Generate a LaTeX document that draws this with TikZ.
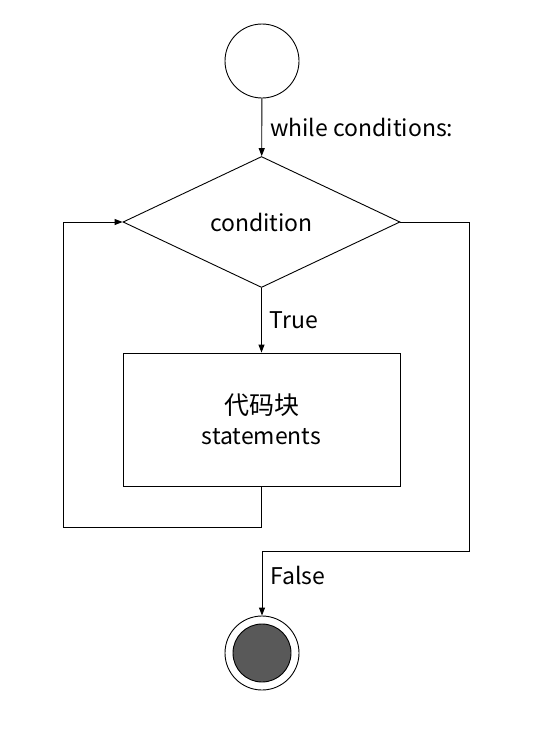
\documentclass[tikz,border=0pt]{standalone}
\usepackage{fontspec}
\setmainfont{Noto Sans CJK SC}
\usetikzlibrary{arrows.meta}
\usetikzlibrary{shapes.geometric}

\begin{document}
\begin{tikzpicture}[x=1pt, y=-1pt, font=\fontsize{23}{30}\selectfont,
    flow/.style={line width=0.9pt, -{Triangle[length=8pt,width=6pt]}},
    lab/.style={right, inner sep=8pt}]
    \useasboundingbox (0,0) rectangle (533,740);
    %%%WHILE LOOP%%%
    %start and end
    \node[draw, line width=0.9pt, circle, minimum size=74pt, inner sep=0pt] (start) at (262,61) {};
    \node[draw, line width=0.9pt, circle, minimum size=74pt, inner sep=0pt] (stop) at (262,653) {};
    \node[draw, line width=0.9pt, circle, fill=black!65, minimum size=58pt, inner sep=0pt] (stopin) at (262,653) {};
    %test and body
    \node[draw, line width=0.9pt, diamond, minimum width=277pt, minimum height=131pt, inner sep=0pt] (cond) at (261.5,222) {condition};
    \node[draw, line width=0.9pt, minimum width=277pt, minimum height=133pt, align=center] (body) at (261.5,419.5) {{\fontsize{25}{30}\selectfont 代码块}\\statements};
    %corner points
    \coordinate (loopL) at (63,527);
    \coordinate (exitR) at (469,551);
    %arrows
    \draw[flow] (start) -- node[lab]{while conditions:} (cond);
    \draw[flow] (cond) -- node[lab]{True} (body);
    \draw[flow] (body.south) |- (loopL) |- (cond.west);
    \draw[flow] (cond.east) -| (exitR) -| node[lab, pos=0.69]{False} (stop.north);
\end{tikzpicture}
\end{document}
